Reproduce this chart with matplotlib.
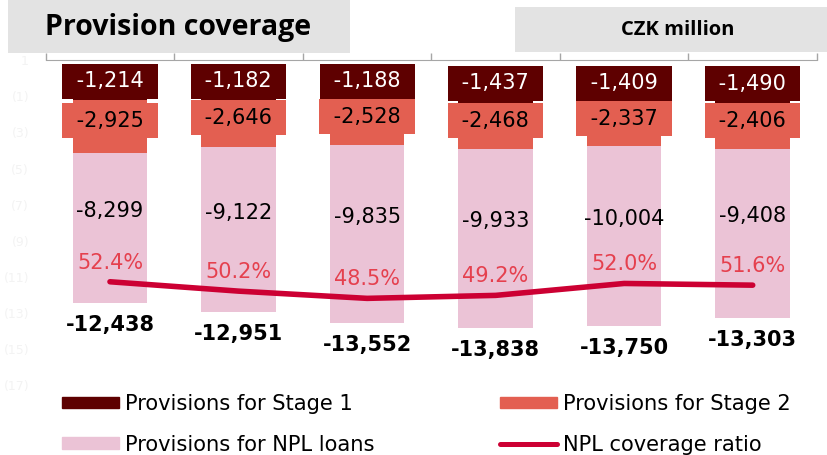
import matplotlib
matplotlib.use("Agg")
import matplotlib.pyplot as plt
from matplotlib.patches import Patch, Rectangle
from matplotlib.lines import Line2D
import numpy as np

plt.rcParams["font.family"] = ["DejaVu Sans"]

S1_COL = "#5E0000"; S2_COL = "#E35F51"; NPL_COL = "#EBC3D6"
LINE_COL = "#CC0033"; PCT_COL = "#E5404E"; BOX_COL = "#E3E3E3"; AX_COL = "#A6A6A6"

# provisions, CZK million (negative = allowance)
stage1 = [1214, 1182, 1188, 1437, 1409, 1490]
stage2 = [2925, 2646, 2528, 2468, 2337, 2406]
npl = [8299, 9122, 9835, 9933, 10004, 9408]
totals = [12438, 12951, 13552, 13838, 13750, 13303]
coverage = [52.4, 50.2, 48.5, 49.2, 52.0, 51.6]

x = np.arange(len(stage1))
s1 = -np.array(stage1)
s2 = -np.array(stage2)
n3 = -np.array(npl)

fig = plt.figure(figsize=(8.28, 4.55), dpi=100)
ax = fig.add_axes([0.0552, 0.1538, 0.9315, 0.7136])

w = 0.58
ax.bar(x, s1, w, color=S1_COL, zorder=2)
ax.bar(x, s2, w, bottom=s1, color=S2_COL, zorder=2)
ax.bar(x, n3, w, bottom=s1 + s2, color=NPL_COL, zorder=2)

ax.set_xlim(-0.5, len(x) - 0.5)
ax.set_ylim(-17000, 1000)
ax.xaxis.tick_top()
ax.set_xticks(np.arange(-0.5, len(x)))
ax.set_xticklabels([])
ax.tick_params(axis="x", direction="out", length=5, color=AX_COL, width=1)
for sp in ["left", "right", "bottom"]:
    ax.spines[sp].set_visible(False)
ax.spines["top"].set_color(AX_COL)

# near-invisible value axis, thousands
yt = np.arange(1000, -17001, -2000)
ax.set_yticks(yt)
ax.set_yticklabels([f"{v // 1000}" if v > 0 else f"({-v // 1000})" for v in yt])
ax.tick_params(axis="y", length=0, pad=12, labelsize=9, labelcolor="#F3F3F3")

px = 0.72  # points per pixel
for i in x:
    ax.annotate(f" {s1[i]:,} ", (i, s1[i] / 2), xytext=(0, 8 * px), textcoords="offset points",
                ha="center", va="center", fontsize=15, color="white", zorder=5,
                bbox=dict(boxstyle="square,pad=0.36", fc=S1_COL, ec="none"))
    ax.annotate(f" {s2[i]:,} ", (i, s1[i] + s2[i] / 2), xytext=(0, 6 * px), textcoords="offset points",
                ha="center", va="center", fontsize=15, color="black", zorder=4,
                bbox=dict(boxstyle="square,pad=0.36", fc=S2_COL, ec="none"))
    ax.annotate(f"{n3[i]:,}", (i, s1[i] + s2[i] + n3[i] / 2), xytext=(0, 17 * px),
                textcoords="offset points", ha="center", va="center", fontsize=15, color="black", zorder=4)
    ax.annotate(f"{-totals[i]:,}", (i, -totals[i]), xytext=(0, -22 * px), textcoords="offset points",
                ha="center", va="center", fontsize=15, fontweight="bold", color="black")

ax2 = ax.twinx()
ax2.set_ylim(28.15, 104.4)
ax2.set_yticks([])
for sp in ax2.spines.values():
    sp.set_visible(False)
ax2.plot(x, coverage, color=LINE_COL, lw=4, solid_capstyle="round", zorder=3)
for i in x:
    ax2.annotate(f"{coverage[i]:.1f}%", (i, coverage[i]), xytext=(0, 19 * px), textcoords="offset points",
                 ha="center", va="center", fontsize=15, color=PCT_COL)

# header boxes
fig.patches.append(Rectangle((8 / 828, 1 - 53 / 455), 342 / 828, 53 / 455, transform=fig.transFigure,
                             fc=BOX_COL, ec="none", zorder=0))
fig.text(45 / 828, 1 - 27 / 455, "Provision coverage", ha="left", va="center",
         fontsize=20.5, fontweight="bold", family="Open Sans")
fig.patches.append(Rectangle((515 / 828, 1 - 52 / 455), 313 / 828, 45 / 455, transform=fig.transFigure,
                             fc=BOX_COL, ec="none", zorder=0))
fig.text(678 / 828, 1 - 30 / 455, "CZK million", ha="center", va="center",
         fontsize=14.5, fontweight="bold", family="Open Sans")

handles = [Patch(color=S1_COL, label="Provisions for Stage 1"),
           Patch(color=NPL_COL, label="Provisions for NPL loans"),
           Patch(color=S2_COL, label="Provisions for Stage 2"),
           Line2D([], [], color=LINE_COL, lw=3.6, solid_capstyle="round", label="NPL coverage ratio")]
fig.legend(handles=handles, loc="upper left", bbox_to_anchor=(62 / 828, 1 - 394 / 455), ncol=2,
           frameon=False, fontsize=15.1, borderpad=0, borderaxespad=0, handlelength=2.7,
           handleheight=0.45, handletextpad=0.3, columnspacing=6.0, labelspacing=0.98)

fig.savefig("out.png", dpi=100)
